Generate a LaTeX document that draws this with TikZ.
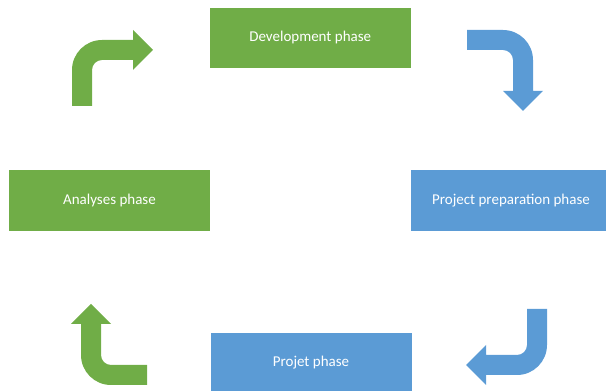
\documentclass[tikz,border=0pt]{standalone}
\usepackage{fontspec}
\setmainfont{Carlito}
\usepackage{xcolor}
\usepackage{tikz}
\usetikzlibrary{positioning}
\definecolor{phasegreen}{HTML}{70AD47}
\definecolor{phaseblue}{HTML}{5B9BD5}
\tikzset{
	phase/.style={minimum width=201pt,minimum height=60pt,inner sep=0pt,text=white,font=\fontsize{15}{18}\selectfont},
	bent/.pic={\fill (0,0) -- (0,36) arc[start angle=180,end angle=90,radius=30pt] -- (61,66) -- (61,76) -- (81,56) -- (61,36) -- (61,46) -- (30,46) arc[start angle=90,end angle=180,radius=10pt] -- (20,0) -- cycle;}
}

\begin{document}
\begin{tikzpicture}[x=1pt,y=1pt]
	\useasboundingbox (0,0) rectangle (606,391);
	\clip (0,0) rectangle (606,391);
	\node[phase,fill=phasegreen] (dev) at (310.25,353) {Development phase};
	\node[phase,fill=phaseblue,minimum height=61pt] (prep) at (511,190.5) {Project preparation phase};
	\node[phase,fill=phaseblue] (proj) at (311,28) {Projet phase};
	\node[phase,fill=phasegreen,minimum height=61pt] (ana) at (109.5,190.5) {Analyses phase};
	\pic[phasegreen] at (72,285) {bent};
	\pic[phaseblue,rotate=-90] at (467,361) {bent};
	\pic[phaseblue,rotate=180] at (547,82) {bent};
	\pic[phasegreen,rotate=90] at (147,6) {bent};
\end{tikzpicture}
\end{document}
